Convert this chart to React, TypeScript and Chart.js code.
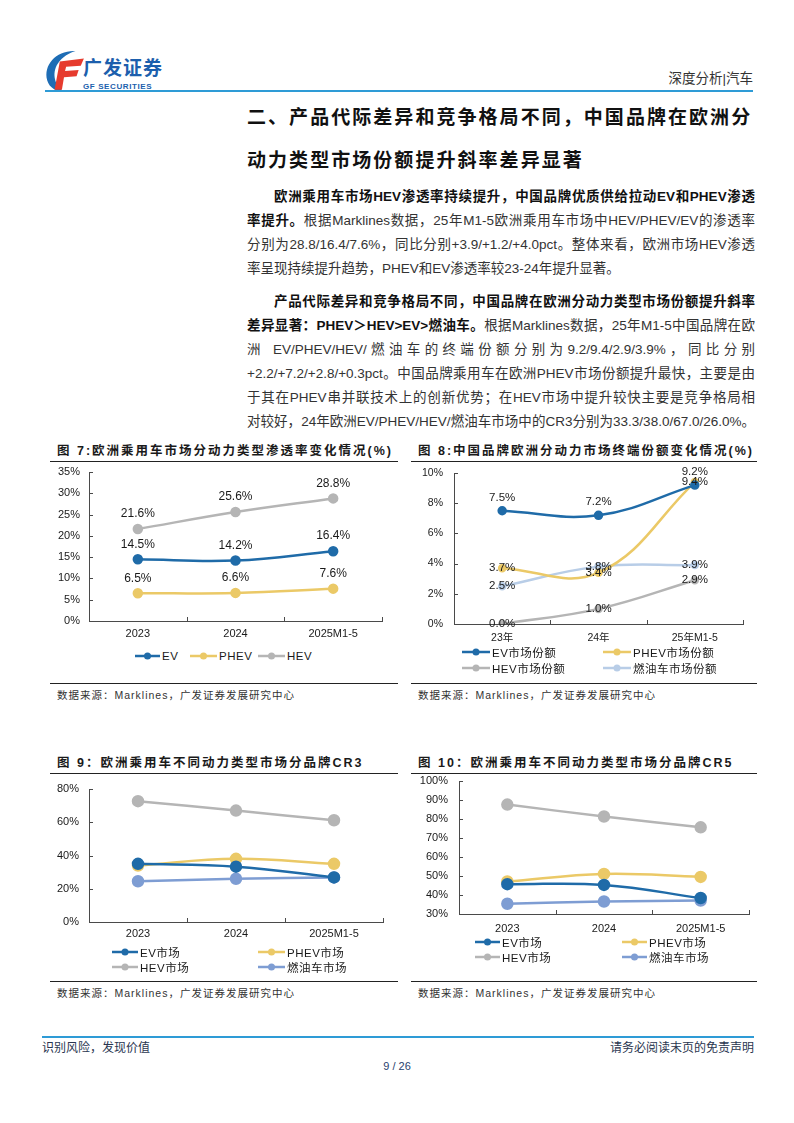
import React, { useEffect, useRef } from "react";
import { Chart, registerables } from "chart.js";
Chart.register(...registerables);

const FONT = '"Liberation Sans", Arial, "Noto Sans CJK SC", sans-serif';
const AXIS = "#4a4a4a";
const TXT = "#1a1a1a";

const C_EV = "#1F6BA8";
const C_PHEV = "#EBC967";
const C_HEV = "#B5B5B5";
const C_ICE_LIGHT = "#B8CDE7";
const C_ICE = "#7E9DD3";

// Figure 7: penetration by powertrain (%)
const fig7Categories = ["2023", "2024", "2025M1-5"];
const fig7EV = [14.5, 14.2, 16.4];
const fig7PHEV = [6.5, 6.6, 7.6];
const fig7HEV = [21.6, 25.6, 28.8];
const fig7Ticks = [0, 5, 10, 15, 20, 25, 30, 35];

// Figure 8: Chinese brands' share in Europe by powertrain (%)
const fig8Categories = ["23年", "24年", "25年M1-5"];
const fig8EV = [7.5, 7.2, 9.2];
const fig8PHEV = [3.7, 3.4, 9.4];
const fig8HEV = [0.0, 1.0, 2.9];
const fig8ICE = [2.5, 3.8, 3.9];
const fig8Ticks = [0, 2, 4, 6, 8, 10];

// Figure 9: CR3 by powertrain (%)
const fig9Categories = ["2023", "2024", "2025M1-5"];
const fig9EV = [35.0, 33.3, 26.8];
const fig9PHEV = [34.0, 38.0, 35.0];
const fig9HEV = [72.7, 67.0, 61.2];
const fig9ICE = [24.5, 26.0, 26.8];
const fig9Ticks = [0, 20, 40, 60, 80];

// Figure 10: CR5 by powertrain (%)
const fig10Categories = ["2023", "2024", "2025M1-5"];
const fig10EV = [45.7, 45.3, 38.4];
const fig10PHEV = [47.1, 51.1, 49.5];
const fig10HEV = [87.6, 81.3, 75.6];
const fig10ICE = [35.4, 36.6, 37.1];
const fig10Ticks = [30, 40, 50, 60, 70, 80, 90, 100];

const pointLabels = {
  id: "pointLabels",
  afterDatasetsDraw(chart: any, _a: any, opts: any) {
    if (!opts || !opts.display) return;
    const ctx = chart.ctx;
    ctx.save();
    ctx.font = `${opts.size}px ${FONT}`;
    ctx.fillStyle = opts.color || TXT;
    ctx.textAlign = "center";
    ctx.textBaseline = "middle";
    chart.data.datasets.forEach((ds: any, di: number) => {
      const off = ds.labelOffset;
      if (off === undefined || off === null) return;
      const meta = chart.getDatasetMeta(di);
      meta.data.forEach((pt: any, i: number) => {
        const v = ds.data[i] as number;
        ctx.fillText(v.toFixed(1) + "%", pt.x, pt.y - off);
      });
    });
    ctx.restore();
  },
};

const innerTicks = {
  id: "innerTicks",
  afterDraw(chart: any) {
    const ctx = chart.ctx;
    const a = chart.chartArea;
    const xs = chart.scales.x;
    const ys = chart.scales.y;
    ctx.save();
    ctx.strokeStyle = AXIS;
    ctx.lineWidth = 1;
    ctx.beginPath();
    const n = xs.ticks.length;
    for (let i = 1; i <= n; i++) {
      const p =
        i < n ? (xs.getPixelForTick(i - 1) + xs.getPixelForTick(i)) / 2 : a.right;
      const px = Math.round(p) + 0.5;
      ctx.moveTo(px, a.bottom);
      ctx.lineTo(px, a.bottom - 4);
    }
    ys.ticks.forEach((_t: any, i: number) => {
      const py = Math.round(ys.getPixelForTick(i)) + 0.5;
      ctx.moveTo(a.left, py);
      ctx.lineTo(a.left + 4, py);
    });
    ctx.stroke();
    ctx.restore();
  },
};

type Series = {
  label: string;
  data: number[];
  color: string;
  radius: number;
  width: number;
  labelOffset?: number | null;
};

type ChartProps = {
  left: number;
  top: number;
  width: number;
  height: number;
  categories: string[];
  series: Series[];
  yTicks: number[];
  yWidth: number;
  xHeight: number;
  padRight: number;
  padTop: number;
  yPad: number;
  xPad: number;
  tickSize: number;
  labelSize?: number;
};

function LineChart(p: ChartProps) {
  const ref = useRef<HTMLCanvasElement | null>(null);
  useEffect(() => {
    if (!ref.current) return;
    const font = { family: FONT, size: p.tickSize };
    const yMin = p.yTicks[0];
    const yMax = p.yTicks[p.yTicks.length - 1];
    const chart = new Chart(ref.current, {
      type: "line",
      data: {
        labels: p.categories,
        datasets: p.series.map((s) => ({
          label: s.label,
          data: s.data,
          borderColor: s.color,
          backgroundColor: s.color,
          pointBackgroundColor: s.color,
          pointBorderColor: s.color,
          pointRadius: s.radius,
          pointHoverRadius: s.radius,
          borderWidth: s.width,
          tension: 0.4,
          fill: false,
          labelOffset: s.labelOffset,
        })) as any,
      },
      options: {
        animation: false,
        responsive: false,
        events: [],
        layout: { padding: { left: 0, right: p.padRight, top: p.padTop, bottom: 0 } },
        plugins: {
          legend: { display: false },
          tooltip: { enabled: false },
          pointLabels: { display: !!p.labelSize, size: p.labelSize, color: TXT },
        } as any,
        scales: {
          x: {
            type: "category",
            offset: true,
            grid: { display: false, drawTicks: false },
            border: { display: true, color: AXIS, width: 1 },
            ticks: { font, color: TXT, padding: p.xPad, maxRotation: 0, autoSkip: false },
            afterFit: (s: any) => {
              s.height = p.xHeight;
            },
          },
          y: {
            type: "linear",
            min: yMin,
            max: yMax,
            grid: { display: false, drawTicks: true, tickLength: p.yPad },
            border: { display: true, color: AXIS, width: 1 },
            ticks: {
              font,
              color: TXT,
              padding: 0,
              autoSkip: false,
              callback: (v: any) => `${v}%`,
            },
            afterBuildTicks: (s: any) => {
              s.ticks = p.yTicks.map((v) => ({ value: v }));
            },
            afterFit: (s: any) => {
              s.width = p.yWidth;
            },
          },
        },
      },
      plugins: [pointLabels, innerTicks],
    });
    return () => chart.destroy();
  }, []);
  return (
    <canvas
      ref={ref}
      width={p.width}
      height={p.height}
      style={{ position: "absolute", left: p.left, top: p.top, width: p.width, height: p.height }}
    />
  );
}

type LegendItem = { label: string; color: string; x: number; y: number; w: number };

function Legend({ items, r }: { items: LegendItem[]; r: number }) {
  return (
    <>
      {items.map((it) => (
        <div
          key={it.label}
          style={{
            position: "absolute",
            left: it.x,
            top: it.y - 8,
            height: 16,
            display: "flex",
            alignItems: "center",
            whiteSpace: "nowrap",
            fontFamily: FONT,
            fontSize: 11.5,
            color: TXT,
            letterSpacing: 0.5,
          }}
        >
          <svg width={it.w} height={12} style={{ marginRight: 2 }}>
            <line x1={0} y1={6} x2={it.w} y2={6} stroke={it.color} strokeWidth={2.5} />
            <circle cx={it.w / 2} cy={6} r={r} fill={it.color} />
          </svg>
          <span>{it.label}</span>
        </div>
      ))}
    </>
  );
}

function Panel({
  x,
  w,
  titleY,
  title,
  ruleY,
}: {
  x: number;
  w: number;
  titleY: number;
  title: string;
  ruleY: number;
}) {
  return (
    <>
      <div
        style={{
          position: "absolute",
          left: x + 7,
          top: titleY - 10,
          height: 20,
          lineHeight: "20px",
          fontFamily: FONT,
          fontWeight: "bold",
          fontSize: 12.5,
          letterSpacing: 2,
          color: TXT,
          whiteSpace: "nowrap",
        }}
      >
        {title}
      </div>
      <div style={{ position: "absolute", left: x, top: titleY + 10, width: w, height: 1, background: "#222" }} />
      <div style={{ position: "absolute", left: x, top: ruleY, width: w, height: 1, background: "#222" }} />
      <div
        style={{
          position: "absolute",
          left: x + 7,
          top: ruleY + 4,
          height: 16,
          lineHeight: "16px",
          fontFamily: FONT,
          fontSize: 10.5,
          letterSpacing: 1,
          color: "#333",
          whiteSpace: "nowrap",
        }}
      >
        数据来源：Marklines，广发证券发展研究中心
      </div>
    </>
  );
}

const lineStyle = (justify: boolean, indent = false): React.CSSProperties => ({
  height: 24,
  lineHeight: "24px",
  whiteSpace: "nowrap",
  textAlign: justify ? "justify" : "left",
  textAlignLast: justify ? "justify" : "left",
  textIndent: indent ? "2em" : 0,
});

export default function App() {
  const B = ({ children }: { children: React.ReactNode }) => (
    <span style={{ fontWeight: "bold", color: "#111" }}>{children}</span>
  );
  return (
    <div
      style={{
        position: "absolute",
        left: 0,
        top: 0,
        width: 794,
        height: 1123,
        background: "#fff",
        overflow: "hidden",
        fontFamily: FONT,
      }}
    >
      {/* Header logo */}
      <svg style={{ position: "absolute", left: 43, top: 49 }} width={42} height={44} viewBox="0 0 40 42">
        <path d="M31 2 C 13 1, 0 15, 4 30 C 6 37, 13 41, 21 41 C 11 36, 8 23, 14 14 C 19 7, 25 4, 31 2 Z" fill="#1E6DB5" />
        <path d="M16 12 L39 9 L36 16 L22 17 L21 21 L34 20 L32 26 L20 27 L18 39 L11 39 Z" fill="#E63B2E" />
      </svg>
      <div
        style={{
          position: "absolute",
          left: 83,
          top: 54,
          fontSize: 19,
          fontWeight: "bold",
          color: "#1C5FAD",
          letterSpacing: 1,
          whiteSpace: "nowrap",
          fontFamily: '"Noto Sans CJK SC", sans-serif',
          lineHeight: "26px",
        }}
      >
        广发证券
      </div>
      <div
        style={{
          position: "absolute",
          left: 83,
          top: 82,
          fontSize: 8,
          fontWeight: "bold",
          color: "#1C5FAD",
          letterSpacing: 0.6,
          whiteSpace: "nowrap",
          lineHeight: "9px",
        }}
      >
        GF SECURITIES
      </div>
      <div
        style={{
          position: "absolute",
          right: 794 - 753,
          top: 70,
          fontSize: 13.5,
          color: "#333",
          whiteSpace: "nowrap",
          lineHeight: "18px",
        }}
      >
        深度分析|汽车
      </div>
      <div style={{ position: "absolute", left: 45, top: 90, width: 708, height: 2, background: "#2E9BD6" }} />

      {/* Section title */}
      <div
        style={{
          position: "absolute",
          left: 247,
          top: 94,
          width: 520,
          fontSize: 19,
          fontWeight: "bold",
          letterSpacing: 2.05,
          color: "#111",
          lineHeight: "43px",
          whiteSpace: "nowrap",
          fontFamily: '"Noto Sans CJK SC", sans-serif',
        }}
      >
        <div>二、产品代际差异和竞争格局不同，中国品牌在欧洲分</div>
        <div>动力类型市场份额提升斜率差异显著</div>
      </div>

      {/* Body text */}
      <div
        style={{
          position: "absolute",
          left: 247,
          top: 185,
          width: 508,
          fontSize: 13.5,
          color: "#333",
        }}
      >
        <div style={lineStyle(true, true)}>
          <B>欧洲乘用车市场HEV渗透率持续提升，中国品牌优质供给拉动EV和PHEV渗透</B>
        </div>
        <div style={lineStyle(true)}>
          <B>率提升。</B>根据Marklines数据，25年M1-5欧洲乘用车市场中HEV/PHEV/EV的渗透率
        </div>
        <div style={lineStyle(true)}>
          分别为28.8/16.4/7.6%，同比分别+3.9/+1.2/+4.0pct。整体来看，欧洲市场HEV渗透
        </div>
        <div style={lineStyle(false)}>率呈现持续提升趋势，PHEV和EV渗透率较23-24年提升显著。</div>
        <div style={{ height: 9 }} />
        <div style={lineStyle(true, true)}>
          <B>产品代际差异和竞争格局不同，中国品牌在欧洲分动力类型市场份额提升斜率</B>
        </div>
        <div style={lineStyle(true)}>
          <B>差异显著：PHEV＞HEV&gt;EV&gt;燃油车。</B>根据Marklines数据，25年M1-5中国品牌在欧
        </div>
        <div style={lineStyle(true)}>
          洲 EV/PHEV/HEV/燃油车的终端份额分别为9.2/9.4/2.9/3.9%，同比分别
        </div>
        <div style={lineStyle(true)}>
          +2.2/+7.2/+2.8/+0.3pct。中国品牌乘用车在欧洲PHEV市场份额提升最快，主要是由
        </div>
        <div style={lineStyle(true)}>
          于其在PHEV串并联技术上的创新优势；在HEV市场中提升较快主要是竞争格局相
        </div>
        <div style={lineStyle(true)}>
          对较好，24年欧洲EV/PHEV/HEV/燃油车市场中的CR3分别为33.3/38.0/67.0/26.0%。
        </div>
      </div>

      {/* Figure 7 */}
      <Panel x={50} w={348} titleY={451} title="图 7:欧洲乘用车市场分动力类型渗透率变化情况(%)" ruleY={683} />
      <LineChart
        left={50}
        top={464}
        width={348}
        height={183}
        categories={fig7Categories}
        series={[
          { label: "EV", data: fig7EV, color: C_EV, radius: 4, width: 2.5, labelOffset: 15 },
          { label: "PHEV", data: fig7PHEV, color: C_PHEV, radius: 4, width: 2.5, labelOffset: 15 },
          { label: "HEV", data: fig7HEV, color: C_HEV, radius: 4, width: 2.5, labelOffset: 15 },
        ]}
        yTicks={fig7Ticks}
        yWidth={39}
        xHeight={26}
        padRight={16}
        padTop={8}
        yPad={9}
        xPad={6}
        tickSize={11}
        labelSize={12}
      />
      <Legend
        r={3.5}
        items={[
          { label: "EV", color: C_EV, x: 135, y: 656, w: 25 },
          { label: "PHEV", color: C_PHEV, x: 190, y: 656, w: 27 },
          { label: "HEV", color: C_HEV, x: 258, y: 656, w: 27 },
        ]}
      />

      {/* Figure 8 */}
      <Panel x={411} w={346} titleY={451} title="图 8:中国品牌欧洲分动力市场终端份额变化情况(%)" ruleY={683} />
      <LineChart
        left={411}
        top={464}
        width={346}
        height={183}
        categories={fig8Categories}
        series={[
          { label: "EV市场份额", data: fig8EV, color: C_EV, radius: 3.5, width: 2.5, labelOffset: 13 },
          { label: "PHEV市场份额", data: fig8PHEV, color: C_PHEV, radius: 3, width: 2.5, labelOffset: 0 },
          { label: "HEV市场份额", data: fig8HEV, color: C_HEV, radius: 3, width: 2.5, labelOffset: 0 },
          { label: "燃油车市场份额", data: fig8ICE, color: C_ICE_LIGHT, radius: 3, width: 2.5, labelOffset: 0 },
        ]}
        yTicks={fig8Ticks}
        yWidth={43}
        xHeight={23}
        padRight={14}
        padTop={9}
        yPad={11}
        xPad={8}
        tickSize={10.5}
        labelSize={11.5}
      />
      <Legend
        r={3.5}
        items={[
          { label: "EV市场份额", color: C_EV, x: 462, y: 652, w: 28 },
          { label: "PHEV市场份额", color: C_PHEV, x: 603, y: 652, w: 28 },
          { label: "HEV市场份额", color: C_HEV, x: 462, y: 668, w: 28 },
          { label: "燃油车市场份额", color: C_ICE_LIGHT, x: 603, y: 668, w: 28 },
        ]}
      />

      {/* Figure 9 */}
      <Panel x={50} w={348} titleY={763} title="图 9：欧洲乘用车不同动力类型市场分品牌CR3" ruleY={981} />
      <LineChart
        left={50}
        top={775}
        width={348}
        height={170}
        categories={fig9Categories}
        series={[
          { label: "EV市场", data: fig9EV, color: C_EV, radius: 5, width: 2.5 },
          { label: "PHEV市场", data: fig9PHEV, color: C_PHEV, radius: 5, width: 2.5 },
          { label: "HEV市场", data: fig9HEV, color: C_HEV, radius: 5, width: 2.5 },
          { label: "燃油车市场", data: fig9ICE, color: C_ICE, radius: 5, width: 2.5 },
        ]}
        yTicks={fig9Ticks}
        yWidth={39}
        xHeight={23}
        padRight={15}
        padTop={14}
        yPad={10}
        xPad={5}
        tickSize={11}
      />
      <Legend
        r={3.5}
        items={[
          { label: "EV市场", color: C_EV, x: 112, y: 952, w: 26 },
          { label: "PHEV市场", color: C_PHEV, x: 258, y: 952, w: 27 },
          { label: "HEV市场", color: C_HEV, x: 112, y: 967, w: 26 },
          { label: "燃油车市场", color: C_ICE, x: 258, y: 967, w: 27 },
        ]}
      />

      {/* Figure 10 */}
      <Panel x={411} w={346} titleY={763} title="图 10：欧洲乘用车不同动力类型市场分品牌CR5" ruleY={981} />
      <LineChart
        left={411}
        top={770}
        width={346}
        height={170}
        categories={fig10Categories}
        series={[
          { label: "EV市场", data: fig10EV, color: C_EV, radius: 5, width: 2.5 },
          { label: "PHEV市场", data: fig10PHEV, color: C_PHEV, radius: 5, width: 2.5 },
          { label: "HEV市场", data: fig10HEV, color: C_HEV, radius: 5, width: 2.5 },
          { label: "燃油车市场", data: fig10ICE, color: C_ICE, radius: 5, width: 2.5 },
        ]}
        yTicks={fig10Ticks}
        yWidth={48}
        xHeight={26}
        padRight={8}
        padTop={11}
        yPad={11}
        xPad={8}
        tickSize={11}
      />
      <Legend
        r={3.5}
        items={[
          { label: "EV市场", color: C_EV, x: 475, y: 942, w: 25 },
          { label: "PHEV市场", color: C_PHEV, x: 622, y: 942, w: 25 },
          { label: "HEV市场", color: C_HEV, x: 475, y: 957, w: 25 },
          { label: "燃油车市场", color: C_ICE, x: 622, y: 957, w: 25 },
        ]}
      />

      {/* Footer */}
      <div style={{ position: "absolute", left: 42, top: 1036, width: 712, height: 2, background: "#2E9BD6" }} />
      <div
        style={{
          position: "absolute",
          left: 42,
          top: 1040,
          fontSize: 12,
          color: "#2A3650",
          lineHeight: "16px",
          whiteSpace: "nowrap",
        }}
      >
        识别风险，发现价值
      </div>
      <div
        style={{
          position: "absolute",
          right: 794 - 754,
          top: 1040,
          fontSize: 12,
          color: "#2A3650",
          lineHeight: "16px",
          whiteSpace: "nowrap",
        }}
      >
        请务必阅读末页的免责声明
      </div>
      <div
        style={{
          position: "absolute",
          left: 0,
          width: 794,
          top: 1058,
          textAlign: "center",
          fontSize: 11,
          color: "#2A3F6E",
          lineHeight: "16px",
        }}
      >
        9 / 26
      </div>
    </div>
  );
}
